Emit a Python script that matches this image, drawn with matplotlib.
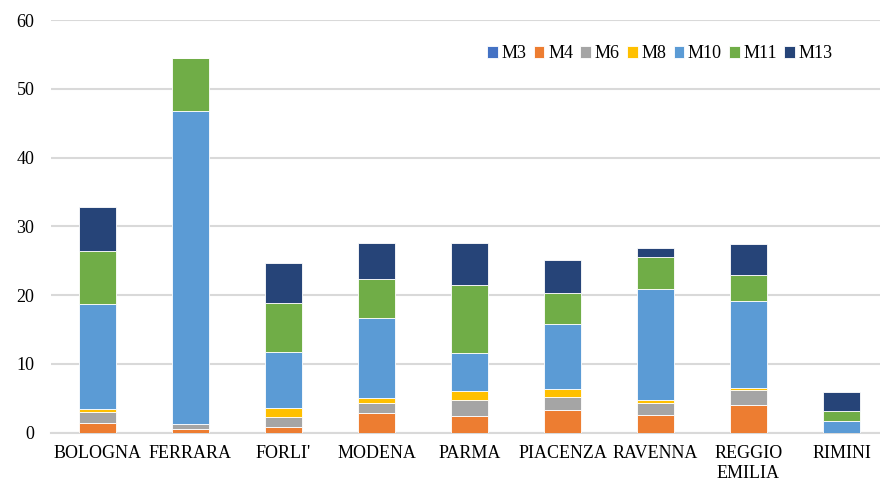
import matplotlib
matplotlib.use("Agg")
import matplotlib.pyplot as plt
import numpy as np

provinces = ["BOLOGNA", "FERRARA", "FORLI'", "MODENA", "PARMA",
             "PIACENZA", "RAVENNA", "REGGIO\nEMILIA", "RIMINI"]
series_names = ["M3", "M4", "M6", "M8", "M10", "M11", "M13"]

m3 = [0, 0, 0, 0, 0, 0, 0, 0, 0]
m4 = [1.35, 0.45, 0.75, 2.9, 2.45, 3.3, 2.55, 3.95, 0]
m6 = [1.6, 0.75, 1.5, 1.45, 2.3, 1.9, 1.8, 2.25, 0]
m8 = [0.5, 0, 1.3, 0.65, 1.35, 1.15, 0.35, 0.27, 0]
m10 = [15.3, 45.6, 8.1, 11.6, 5.5, 9.4, 16.2, 12.6, 1.72]
m11 = [7.7, 7.7, 7.15, 5.8, 9.85, 4.6, 4.7, 3.85, 1.4]
m13 = [6.4, 0, 5.9, 5.1, 6.15, 4.7, 1.2, 4.45, 2.8]

colors = ["#4472C4", "#ED7D31", "#A5A5A5", "#FFC000", "#5B9BD5", "#70AD47", "#264478"]

plt.rcParams["font.family"] = ["Liberation Serif", "DejaVu Serif"]
plt.rcParams["font.size"] = 13

fig = plt.figure(figsize=(8.8, 4.82), dpi=100)
ax = fig.add_axes([51 / 880, 49.5 / 482, 837 / 880, 412.5 / 482])

x = np.arange(len(provinces))
bottom = np.zeros(len(provinces))
for name, vals, col in zip(series_names, [m3, m4, m6, m8, m10, m11, m13], colors):
    vals = np.array(vals)
    ax.bar(x, vals, width=0.4, bottom=bottom, color=col, label=name,
           edgecolor="white", linewidth=0.6, zorder=3)
    bottom += vals

ax.set_xlim(-0.5, len(provinces) - 0.5)
ax.set_ylim(0, 60)
ax.set_yticks(range(0, 61, 10))
ax.set_xticks(x, provinces)
ax.grid(axis="y", color="#D9D9D9", linewidth=1.5, zorder=0)
for s in ["top", "right", "left"]:
    ax.spines[s].set_visible(False)
ax.spines["bottom"].set_color("#D9D9D9")
ax.spines["bottom"].set_linewidth(1.5)
ax.tick_params(axis="both", length=0)
ax.tick_params(axis="y", pad=12)
ax.tick_params(axis="x", pad=9)

ax.legend(loc="center", bbox_to_anchor=(660 / 880, 1 - 54 / 482),
          bbox_transform=fig.transFigure, ncol=7, frameon=False,
          handlelength=0.6, handleheight=0.6, handletextpad=0.2,
          columnspacing=0.4)

fig.savefig("out.png", dpi=100)
